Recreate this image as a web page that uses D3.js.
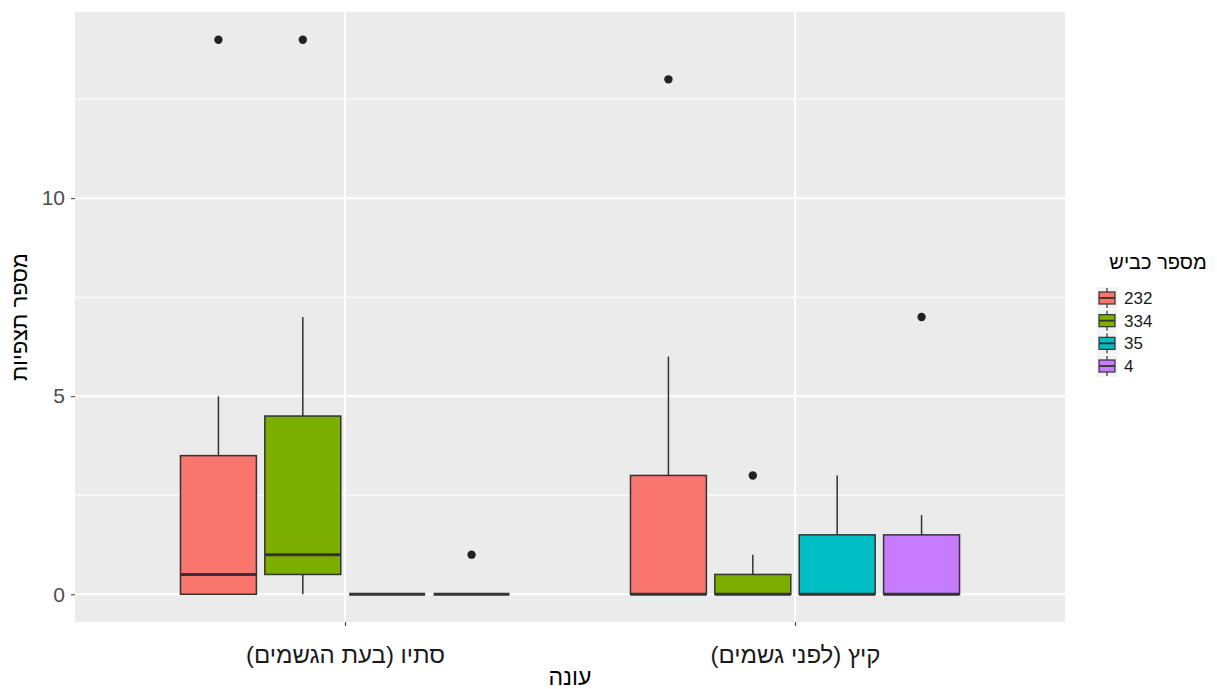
<!DOCTYPE html>
<html>
<head>
<meta charset="utf-8">
<script src="https://cdn.jsdelivr.net/npm/d3@7"></script>
<style>
  body { margin: 0; background: #fff; }
  svg { display: block; font-family: "Liberation Sans", Arial, sans-serif; }
</style>
</head>
<body>
<svg id="chart" width="1217" height="689"></svg>
<script>
// Seasons on the x axis, road numbers as the fill groups
const seasons = ["סתיו (בעת הגשמים)", "קיץ (לפני גשמים)"];
const roads = ["232", "334", "35", "4"];
const roadColors = ["#F8766D", "#7CAE00", "#00BFC4", "#C77CFF"];

// Box statistics, indexed [season][road]
const whiskerLow = [[0, 0, 0, 0], [0, 0, 0, 0]];
const q1 =         [[0, 0.5, 0, 0], [0, 0, 0, 0]];
const median =     [[0.5, 1, 0, 0], [0, 0, 0, 0]];
const q3 =         [[3.5, 4.5, 0, 0], [3, 0.5, 1.5, 1.5]];
const whiskerHigh =[[5, 7, 0, 0], [6, 1, 3, 2]];
const outliers =   [[[14], [14], [], [1]], [[13], [3], [], [7]]];

const yTicks = [0, 5, 10];
const yMinor = [2.5, 7.5, 12.5];

const svg = d3.select("#chart");
const panel = { left: 75, right: 1065, top: 12, bottom: 622 };

const x = d3.scalePoint().domain(seasons).range([panel.left, panel.right]).padding(0.6);
const y = d3.scaleLinear().domain([-0.7, 14.7]).range([panel.bottom, panel.top]);
const dodge = x.step() * 0.75;
const slot = dodge / roads.length;
const boxW = slot * 0.9;
const xr = d3.scaleBand().domain(roads).range([-dodge / 2, dodge / 2]);

// Panel background and grid
svg.append("rect")
  .attr("x", panel.left).attr("y", panel.top)
  .attr("width", panel.right - panel.left).attr("height", panel.bottom - panel.top)
  .attr("fill", "#EBEBEB");

svg.selectAll(".minor").data(yMinor).join("line")
  .attr("x1", panel.left).attr("x2", panel.right)
  .attr("y1", d => y(d)).attr("y2", d => y(d))
  .attr("stroke", "#fff").attr("stroke-width", 1);
svg.selectAll(".major").data(yTicks).join("line")
  .attr("x1", panel.left).attr("x2", panel.right)
  .attr("y1", d => y(d)).attr("y2", d => y(d))
  .attr("stroke", "#fff").attr("stroke-width", 2);
svg.selectAll(".vgrid").data(seasons).join("line")
  .attr("x1", d => x(d)).attr("x2", d => x(d))
  .attr("y1", panel.top).attr("y2", panel.bottom)
  .attr("stroke", "#fff").attr("stroke-width", 2);

// Axes
const yAxis = svg.append("g")
  .attr("transform", `translate(${panel.left},0)`)
  .call(d3.axisLeft(y).tickValues(yTicks).tickSize(4).tickPadding(6).tickFormat(d3.format("d")));
yAxis.select(".domain").remove();
yAxis.selectAll(".tick line").attr("stroke", "#333");
yAxis.selectAll(".tick text").attr("fill", "#4D4D4D").style("font-size", "21px");

const xAxis = svg.append("g")
  .attr("transform", `translate(0,${panel.bottom})`)
  .call(d3.axisBottom(x).tickSize(4).tickPadding(20));
xAxis.select(".domain").remove();
xAxis.selectAll(".tick line").attr("stroke", "#333");
xAxis.selectAll(".tick text")
  .attr("fill", "#1a1a1a").style("font-size", "24px").style("direction", "rtl");

// Boxplots
const boxes = [];
seasons.forEach((s, si) => roads.forEach((r, ri) => boxes.push({ s, si, r, ri })));

const g = svg.append("g");
boxes.forEach(b => {
  const cx = x(b.s) + xr(b.r) + slot / 2;
  const grp = g.append("g");
  grp.append("line")
    .attr("x1", cx).attr("x2", cx)
    .attr("y1", y(q3[b.si][b.ri])).attr("y2", y(whiskerHigh[b.si][b.ri]))
    .attr("stroke", "#333").attr("stroke-width", 1.5);
  grp.append("line")
    .attr("x1", cx).attr("x2", cx)
    .attr("y1", y(q1[b.si][b.ri])).attr("y2", y(whiskerLow[b.si][b.ri]))
    .attr("stroke", "#333").attr("stroke-width", 1.5);
  grp.append("rect")
    .attr("x", cx - boxW / 2).attr("width", boxW)
    .attr("y", y(q3[b.si][b.ri]))
    .attr("height", y(q1[b.si][b.ri]) - y(q3[b.si][b.ri]))
    .attr("fill", roadColors[b.ri]).attr("stroke", "#333").attr("stroke-width", 1.5);
  grp.append("line")
    .attr("x1", cx - boxW / 2).attr("x2", cx + boxW / 2)
    .attr("y1", y(median[b.si][b.ri])).attr("y2", y(median[b.si][b.ri]))
    .attr("stroke", "#333").attr("stroke-width", 3);
  grp.selectAll("circle").data(outliers[b.si][b.ri]).join("circle")
    .attr("cx", cx).attr("cy", d => y(d)).attr("r", 4.2)
    .attr("fill", "#222");
});

// Axis titles
svg.append("text")
  .attr("x", (panel.left + panel.right) / 2).attr("y", 685)
  .attr("text-anchor", "middle").style("direction", "rtl")
  .style("font-size", "23px").attr("fill", "#000")
  .text("עונה");

svg.append("text")
  .attr("transform", `translate(27,${(panel.top + panel.bottom) / 2}) rotate(-90)`)
  .attr("text-anchor", "middle").style("direction", "rtl")
  .style("font-size", "22px").attr("fill", "#000")
  .text("מספר תצפיות");

// Legend
const legend = svg.append("g");
legend.append("text")
  .attr("x", 1158).attr("y", 269)
  .attr("text-anchor", "middle").style("direction", "rtl")
  .style("font-size", "20px").attr("fill", "#000")
  .text("מספר כביש");

const keyY = d3.scalePoint().domain(roads).range([298, 366]);
roads.forEach((r, i) => {
  const cy = keyY(r);
  const kx = 1107;
  const k = legend.append("g");
  k.append("rect").attr("x", 1097).attr("y", cy - 11).attr("width", 20).attr("height", 22).attr("fill", "#F2F2F2");
  k.append("line").attr("x1", kx).attr("x2", kx).attr("y1", cy - 10).attr("y2", cy + 10)
    .attr("stroke", "#333").attr("stroke-width", 1.2);
  k.append("rect").attr("x", kx - 8).attr("y", cy - 6).attr("width", 16).attr("height", 12)
    .attr("fill", roadColors[i]).attr("stroke", "#333").attr("stroke-width", 1.2);
  k.append("line").attr("x1", kx - 8).attr("x2", kx + 8).attr("y1", cy).attr("y2", cy)
    .attr("stroke", "#333").attr("stroke-width", 1.8);
  k.append("text").attr("x", 1124).attr("y", cy + 6)
    .style("font-size", "17px").attr("fill", "#1a1a1a").text(r);
});
</script>
</body>
</html>
